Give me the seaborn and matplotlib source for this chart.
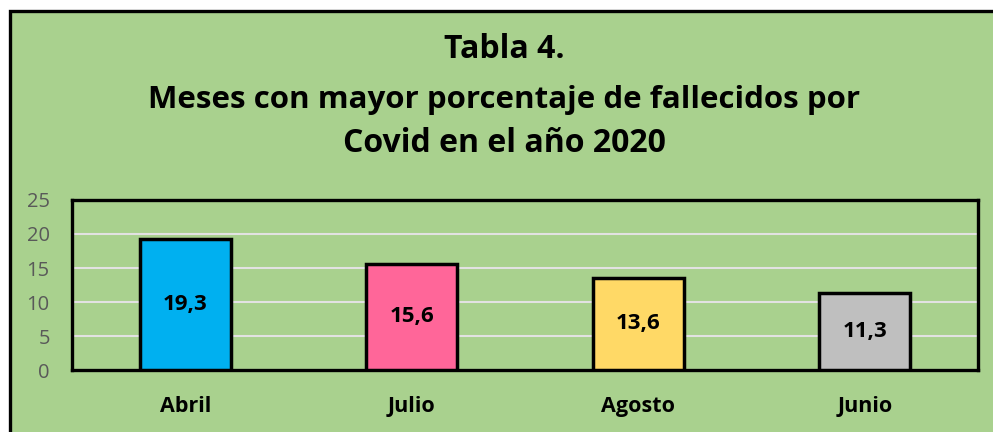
import pandas as pd
import seaborn as sns
import matplotlib.pyplot as plt
from matplotlib.patches import Rectangle

# data
meses = ['Abril', 'Julio', 'Agosto', 'Junio']
porcentaje = [19.3, 15.6, 13.6, 11.3]
colores = ['#00b0f0', '#ff6699', '#ffd966', '#bfbfbf']
etiquetas = ['19,3', '15,6', '13,6', '11,3']

df = pd.DataFrame({'mes': meses, 'valor': porcentaje})

bg = '#a9d18e'
plt.rcParams['font.family'] = ['Open Sans', 'DejaVu Sans']

fig = plt.figure(figsize=(9.93, 4.32), dpi=100)
fig.patch.set_facecolor('white')

# green panel with black border (runs past the right and bottom edges)
fig.patches.append(Rectangle((9.5 / 993, -0.05), 1.1, 1 - 10.5 / 432 + 0.05,
                             transform=fig.transFigure, facecolor=bg,
                             edgecolor='black', linewidth=2.4, zorder=-5))

ax = fig.add_axes([72 / 993, 62 / 432, 906 / 993, 170 / 432])
ax.set_zorder(2)
ax.set_facecolor(bg)

sns.barplot(data=df, x='mes', y='valor', hue='mes', palette=colores,
            saturation=1, width=0.4, edgecolor='black', linewidth=2.5,
            legend=False, ax=ax, zorder=3)

for i, (v, t) in enumerate(zip(porcentaje, etiquetas)):
    ax.text(i, v / 2, t, ha='center', va='center', fontsize=16,
            fontweight='bold', color='black', zorder=4)

ax.set_ylim(0, 25)
ax.set_yticks(range(0, 26, 5))
ax.yaxis.grid(True, color='#e2e2e2', linewidth=1.5, zorder=1)
ax.set_axisbelow(True)
ax.axhline(0, color='white', linewidth=1.5, zorder=2)
for s in ax.spines.values():
    s.set_color('black')
    s.set_linewidth(2.4)
ax.tick_params(axis='both', length=0)
ax.tick_params(axis='y', labelsize=14.5, labelcolor='#595959', pad=16)
ax.tick_params(axis='x', labelsize=15.5, pad=19)
for lbl in ax.get_xticklabels():
    lbl.set_fontweight('bold')
ax.set_xlabel('')
ax.set_ylabel('')

fig.text(0.508, 1 - 50 / 432, 'Tabla 4.', ha='center', va='center',
         fontsize=23, fontweight='bold', zorder=5)
fig.text(0.508, 1 - 100 / 432, 'Meses con mayor porcentaje de fallecidos por',
         ha='center', va='center', fontsize=22.5, fontweight='bold', zorder=5)
fig.text(0.508, 1 - 143 / 432, 'Covid en el año 2020', ha='center',
         va='center', fontsize=23, fontweight='bold', zorder=5)

plt.savefig('out.png', dpi=100, facecolor=fig.get_facecolor())
